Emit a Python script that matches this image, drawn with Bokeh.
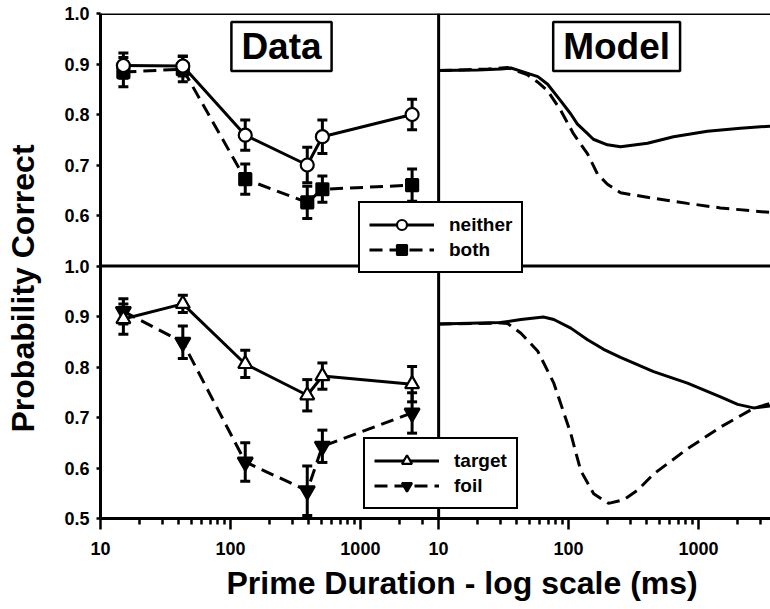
import math
from bokeh.plotting import figure
from bokeh.layouts import row
from bokeh.models import (Range1d, LogScale, FixedTicker, CustomJSTickFormatter, Span, Label,
                          Legend, LegendItem, ColumnDataSource, Title)
from bokeh.embed import file_html
from bokeh.resources import INLINE

# ---------------- data ----------------
prime_ms = [15, 43, 130, 390, 510, 2500]

neither = [0.897, 0.896, 0.759, 0.700, 0.756, 0.800]
neither_err = [0.025, 0.020, 0.030, 0.035, 0.033, 0.030]
both = [0.884, 0.890, 0.672, 0.626, 0.652, 0.660]
both_err = [0.029, 0.025, 0.030, 0.032, 0.026, 0.032]

target = [0.895, 0.925, 0.806, 0.744, 0.782, 0.766]
target_err = [0.030, 0.017, 0.027, 0.031, 0.026, 0.035]
foil = [0.910, 0.849, 0.612, 0.555, 0.643, 0.709]
foil_err = [0.025, 0.032, 0.038, 0.049, 0.032, 0.040]

model_neither_x = [10, 20, 30, 36, 43, 58, 69, 87, 104, 117, 140, 155, 199, 251, 405, 642, 1170, 2100, 3580]
model_neither_y = [0.887, 0.888, 0.890, 0.892, 0.886, 0.875, 0.860, 0.827, 0.801, 0.781, 0.762, 0.751,
                   0.740, 0.736, 0.743, 0.756, 0.767, 0.773, 0.777]
model_both_x = [10, 24, 34, 48, 58, 69, 87, 109, 140, 167, 199, 251, 451, 822, 1476, 2649, 3580]
model_both_y = [0.887, 0.890, 0.893, 0.879, 0.864, 0.847, 0.808, 0.762, 0.722, 0.682, 0.662, 0.645,
                0.634, 0.624, 0.615, 0.609, 0.606]

model_target_x = [10, 30, 43, 64, 77, 104, 140, 186, 251, 451, 822, 1476, 2000, 2649, 3580]
model_target_y = [0.885, 0.888, 0.894, 0.899, 0.894, 0.877, 0.854, 0.835, 0.819, 0.791, 0.768, 0.741,
                  0.726, 0.719, 0.723]
model_foil_x = [10, 30, 34, 43, 58, 77, 104, 124, 156, 203, 265, 340, 451, 822, 1476, 2649, 3580]
model_foil_y = [0.885, 0.887, 0.886, 0.867, 0.831, 0.768, 0.668, 0.595, 0.549, 0.530, 0.537, 0.556,
                0.588, 0.638, 0.681, 0.718, 0.728]

x_tick_values = [10, 100, 1000]
y_tick_values = [0.5, 0.6, 0.7, 0.8, 0.9, 1.0]
x_title = "Prime Duration - log scale (ms)"
y_title = "Probability Correct"

# ---------------- layout constants ----------------
FONT = "Liberation Sans"
X_LO = 10
X_HI_LEFT = 4000      # right limit of the "Data" panels
X_HI_RIGHT = 3580     # visible right limit of the "Model" panels
SHIFT = X_HI_LEFT / X_LO
YT_W = 50             # width of the strip holding the y title
MAIN_W, MAIN_H = 770 - YT_W, 609

p = figure(width=MAIN_W, height=MAIN_H, x_axis_type="log",
           x_range=Range1d(X_LO, X_HI_LEFT * X_HI_RIGHT / X_LO),
           y_range=Range1d(0.0, 1.0),
           output_backend="svg", toolbar_location=None,
           min_border_left=100 - YT_W, min_border_right=0, min_border_top=13, min_border_bottom=91)
p.extra_x_ranges = {"model": Range1d(X_LO / SHIFT, X_HI_RIGHT)}
p.extra_x_scales = {"model": LogScale()}
p.extra_y_ranges = {"bot": Range1d(0.5, 1.5)}

p.outline_line_color = None
p.xgrid.visible = False
p.ygrid.visible = False
p.background_fill_color = "white"
p.border_fill_color = "white"

# bottom axis (both panels share one log axis line)
xa = p.xaxis[0]
major_x = list(x_tick_values) + [v * SHIFT for v in x_tick_values]
minor_left = [k * 10 ** d for d in (1, 2, 3) for k in range(2, 10) if k * 10 ** d < X_HI_LEFT]
minor_right = [k * 10 ** d * SHIFT for d in (1, 2, 3) for k in range(2, 10) if k * 10 ** d < X_HI_RIGHT]
xa.ticker = FixedTicker(ticks=major_x, minor_ticks=minor_left + minor_right)
xa.formatter = CustomJSTickFormatter(args=dict(shift=SHIFT),
    code="const v = tick > 3999 ? tick / shift : tick; return Math.round(v).toString();")
xa.axis_line_width = 3
xa.axis_line_color = "black"
xa.major_tick_line_width = 2.5
xa.minor_tick_line_width = 2.5
xa.major_tick_out = 11
xa.major_tick_in = 0
xa.minor_tick_out = 6
xa.minor_tick_in = 0
xa.major_label_standoff = 12
xa.major_label_text_font = FONT
xa.major_label_text_font_style = "bold"
xa.major_label_text_font_size = "18px"
xa.major_label_text_color = "black"

# left axis (top panel ticks + bottom panel ticks)
ya = p.yaxis[0]
y_major = sorted(set([round(v - 0.5, 2) for v in y_tick_values] + list(y_tick_values)))
ya.ticker = FixedTicker(ticks=y_major, minor_ticks=[])
ya.formatter = CustomJSTickFormatter(
    code="const v = tick < 0.55 ? tick + 0.5 : tick; return v.toFixed(1);")
ya.axis_line_width = 3
ya.axis_line_color = "black"
ya.major_tick_line_width = 2.5
ya.major_tick_out = 4
ya.major_tick_in = 0
ya.major_label_standoff = 7
ya.major_label_text_font = FONT
ya.major_label_text_font_style = "bold"
ya.major_label_text_font_size = "18px"
ya.major_label_text_color = "black"

# x title below the axis
p.add_layout(Title(text=x_title, align="left", offset=126, standoff=10, vertical_align="bottom",
                   text_font=FONT, text_font_style="bold", text_font_size="32px",
                   text_color="black"), "below")

# panel borders
p.add_layout(Span(location=1.0, dimension="width", line_color="black", line_width=3))
p.add_layout(Span(location=0.5, dimension="width", line_color="black", line_width=3))
p.add_layout(Span(location=X_LO, dimension="height", line_color="black", line_width=3,
                  x_range_name="model"))


def draw_data(y, err, marker, fill, dash, yr, size):
    src = ColumnDataSource(dict(x=prime_ms, y=y,
                                lo=[a - b for a, b in zip(y, err)],
                                hi=[a + b for a, b in zip(y, err)]))
    p.segment("x", "lo", "x", "hi", source=src, line_color="black", line_width=3, y_range_name=yr)
    p.scatter("x", "lo", source=src, marker="dash", size=10, line_color="black", line_width=3,
              y_range_name=yr)
    p.scatter("x", "hi", source=src, marker="dash", size=10, line_color="black", line_width=3,
              y_range_name=yr)
    ln = p.line("x", "y", source=src, line_color="black", line_width=3, line_dash=dash,
                y_range_name=yr)
    mk = p.scatter("x", "y", source=src, marker=marker, size=size, fill_color=fill,
                   line_color="black", line_width=2.2, y_range_name=yr)
    return ln, mk


ln_b, mk_b = draw_data(both, both_err, "square", "black", "13 7", "default", 12)
ln_n, mk_n = draw_data(neither, neither_err, "circle", "white", "solid", "default", 13)
ln_f, mk_f = draw_data(foil, foil_err, "inverted_triangle", "black", "13 7", "bot", 15)
ln_t, mk_t = draw_data(target, target_err, "triangle", "white", "solid", "bot", 14)

# model curves
p.line(model_neither_x, model_neither_y, x_range_name="model", line_color="black", line_width=3)
p.line(model_both_x, model_both_y, x_range_name="model", line_color="black", line_width=3,
       line_dash="13 7")
p.line(model_target_x, model_target_y, x_range_name="model", y_range_name="bot",
       line_color="black", line_width=3)
p.line(model_foil_x, model_foil_y, x_range_name="model", y_range_name="bot",
       line_color="black", line_width=3, line_dash="13 7")

# panel titles
for txt, rng, off in (("Data", "default", 181), ("Model", "model", 178)):
    p.add_layout(Label(x=X_LO, y=1.0, x_range_name=rng, x_offset=off, y_offset=-33, text=txt,
                       text_align="center", text_baseline="middle", text_font=FONT,
                       text_font_style="bold", text_font_size="37px", text_color="black",
                       border_line_color="black", border_line_width=2.5, border_line_alpha=1.0,
                       background_fill_color="white", padding=(10, 4)))

legend_style = dict(border_line_color="black", border_line_width=2.5, border_line_alpha=1.0,
                    background_fill_alpha=1.0, label_text_color="black",
                    label_text_font=FONT, label_text_font_style="bold", label_text_font_size="19px",
                    glyph_width=65, glyph_height=25, label_standoff=15, padding=9, spacing=0,
                    margin=0)
p.add_layout(Legend(items=[LegendItem(label="neither", renderers=[ln_n, mk_n]),
                           LegendItem(label="both", renderers=[ln_b, mk_b])],
                    location=(258, 245), **legend_style))
p.add_layout(Legend(items=[LegendItem(label="target", renderers=[ln_t, mk_t]),
                           LegendItem(label="foil", renderers=[ln_f, mk_f])],
                    location=(263, 9), **legend_style))

# ---------------- y title in its own strip (a Title on the left side) ----------------
# In a row, the strip's frame is aligned with the main frame (y 13..518), so the
# offset is measured from the main frame's bottom edge.
yfig = figure(width=YT_W, height=MAIN_H, x_range=Range1d(0, 1), y_range=Range1d(0, 1),
              output_backend="svg", toolbar_location=None,
              x_axis_location=None, y_axis_location=None, min_border=0)
yfig.outline_line_color = None
yfig.xgrid.visible = False
yfig.ygrid.visible = False
yfig.add_layout(Title(text=y_title, align="left", offset=86, standoff=8, vertical_align="top",
                      text_font=FONT, text_font_style="bold", text_font_size="32px",
                      text_color="black"), "left")

layout = row(yfig, p, spacing=0)

open("out.html", "w").write(file_html(layout, INLINE))
